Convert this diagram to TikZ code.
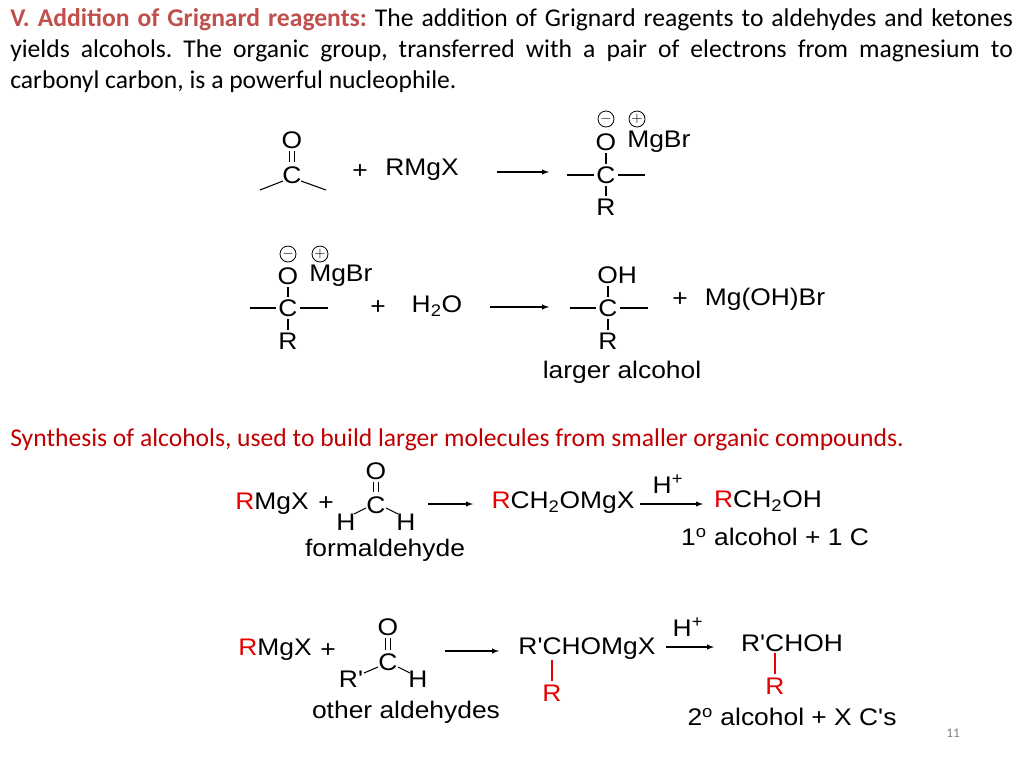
\documentclass[tikz,border=0pt]{standalone}
\usepackage{fontspec}
\setmainfont{Carlito}
\newfontfamily\chem[FakeStretch=1.1]{Liberation Sans}
\definecolor{ttl}{RGB}{192,80,77}
\definecolor{rd}{RGB}{192,0,0}
\definecolor{cr}{RGB}{230,0,0}
\frenchspacing
\begin{document}
\begin{tikzpicture}[x=0.75pt,y=-0.75pt,
  ch/.style={font=\chem\fontsize{18}{22}\selectfont,inner sep=0pt},
  bd/.style={line width=0.8pt},
  arr/.style={-latex,line width=0.8pt},
  chg/.style={circle,draw,line width=0.6pt,minimum size=12pt,inner sep=0pt,font=\chem\fontsize{11}{11}\selectfont}]
\useasboundingbox (0,0) rectangle (1024,768);
\node[anchor=north west,inner sep=0pt,text width=752pt,align=justify,font=\fontsize{19.2}{23.3}\selectfont] (intro) at (10,8)
 {{\bfseries\color{ttl}V. Addition of Grignard reagents:} The addition of Grignard reagents to aldehydes and ketones\linebreak yields alcohols. The organic group, transferred with a pair of electrons from magnesium to\linebreak \mbox{carbonyl} carbon, is a powerful nucleophile.};
% reaction 1
\node[ch] (o1) at (292,140) {O};
\node[ch] (c1) at (292,175) {C};
\draw[bd] (289.5,151)--(289.5,162) (294.5,151)--(294.5,162);
\draw[bd] (283,181)--(260,190) (301,181)--(326,190);
\node[ch] (p1) at (360,172) {+};
\node[ch] (rm1) at (422,170) {RMgX};
\coordinate (a1s) at (497,172); \coordinate (a1e) at (549,172);
\draw[arr] (a1s)--(a1e);
\node[chg] (m1) at (606,119) {$-$};
\node[chg] (q1) at (637,119) {$+$};
\node[ch] (o2) at (606,142) {O};
\node[ch,anchor=west] (mg2) at (627,142) {MgBr};
\node[ch] (c2) at (606,175) {C};
\node[ch] (r2) at (606,207) {R};
\draw[bd] (606,153)--(606,164) (606,186)--(606,196) (567,175)--(594,175) (618,175)--(645,175);
% reaction 2
\node[chg] (m3) at (288,254) {$-$};
\node[chg] (q3) at (320,254) {$+$};
\node[ch] (o3) at (288,276) {O};
\node[ch,anchor=west] (mg3) at (309,276) {MgBr};
\node[ch] (c3) at (288,308) {C};
\node[ch] (r3) at (288,341) {R};
\draw[bd] (288,287)--(288,297) (288,319)--(288,330) (250,308)--(276,308) (300,308)--(328,308);
\node[ch] (p3) at (378,308) {+};
\node[ch] (w3) at (437,306) {H\textsubscript{2}O};
\coordinate (a2s) at (490,307); \coordinate (a2e) at (549,307);
\draw[arr] (a2s)--(a2e);
\node[ch,anchor=west] (oh4) at (597,275) {OH};
\node[ch] (c4) at (608,308) {C};
\node[ch] (r4) at (608,341) {R};
\draw[bd] (608,286)--(608,297) (608,319)--(608,330) (570,308)--(596,308) (620,308)--(648,308);
\node[ch] (p4) at (680,300) {+};
\node[ch] (mg4) at (765,299) {Mg(OH)Br};
\node[ch] (la) at (622,372) {larger alcohol};
% synthesis
\node[anchor=west,inner sep=0pt,text=rd,font=\fontsize{19.2}{22}\selectfont] (syn) at (10,440) {Synthesis of alcohols, used to build larger molecules from smaller organic compounds.};
\node[ch] (rm5) at (272,504) {{\color{cr}R}MgX};
\node[ch] (p5) at (326,504) {+};
\node[ch] (o5) at (376,471) {O};
\draw[bd] (373.5,482)--(373.5,492) (378.5,482)--(378.5,492);
\node[ch] (c5) at (376,505) {C};
\node[ch] (h5a) at (346,522) {H};
\node[ch] (h5b) at (406,522) {H};
\draw[bd] (354,514)--(366,508) (386,508)--(398,514);
\node[ch] (f5) at (385,550) {formaldehyde};
\coordinate (a3s) at (428,504); \coordinate (a3e) at (473,504);
\draw[arr] (a3s)--(a3e);
\node[ch] (i5) at (563,503) {{\color{cr}R}CH\textsubscript{2}OMgX};
\node[ch] (hp5) at (668,484) {H\textsuperscript{+}};
\coordinate (a4s) at (640,504); \coordinate (a4e) at (703,504);
\draw[arr] (a4s)--(a4e);
\node[ch] (pr5) at (768,501) {{\color{cr}R}CH\textsubscript{2}OH};
\node[ch] (l5) at (775,537) {1\textsuperscript{o} alcohol + 1 C};
% row 2
\node[ch] (rm6) at (275,650) {{\color{cr}R}MgX};
\node[ch] (p6) at (328,651) {+};
\node[ch] (o6) at (388,627) {O};
\draw[bd] (385.5,638)--(385.5,650) (390.5,638)--(390.5,650);
\node[ch] (c6) at (388,662) {C};
\node[ch] (rp6) at (351,679) {R'};
\node[ch] (h6) at (418,679) {H};
\draw[bd] (364,673)--(378,667) (398,667)--(410,673);
\node[ch] (f6) at (406,712) {other aldehydes};
\coordinate (a5s) at (445,651); \coordinate (a5e) at (499,651);
\draw[arr] (a5s)--(a5e);
\node[ch] (i6) at (587,649) {R'CHOMgX};
\node[ch,text=cr] (ri6) at (552,693) {R};
\draw[bd,cr] (552,660)--(552,681);
\node[ch] (hp6) at (688,627) {H\textsuperscript{+}};
\coordinate (a6s) at (666,647); \coordinate (a6e) at (714,647);
\draw[arr] (a6s)--(a6e);
\node[ch] (pr6) at (792,643) {R'CHOH};
\node[ch,text=cr] (rr6) at (775,686) {R};
\draw[bd,cr] (775,653)--(775,674);
\node[ch] (l6) at (792,717) {2\textsuperscript{o} alcohol + X C's};
\node[inner sep=0pt,text=gray,font=\fontsize{10}{12}\selectfont] (pg) at (953,733) {11};
\end{tikzpicture}
\end{document}
